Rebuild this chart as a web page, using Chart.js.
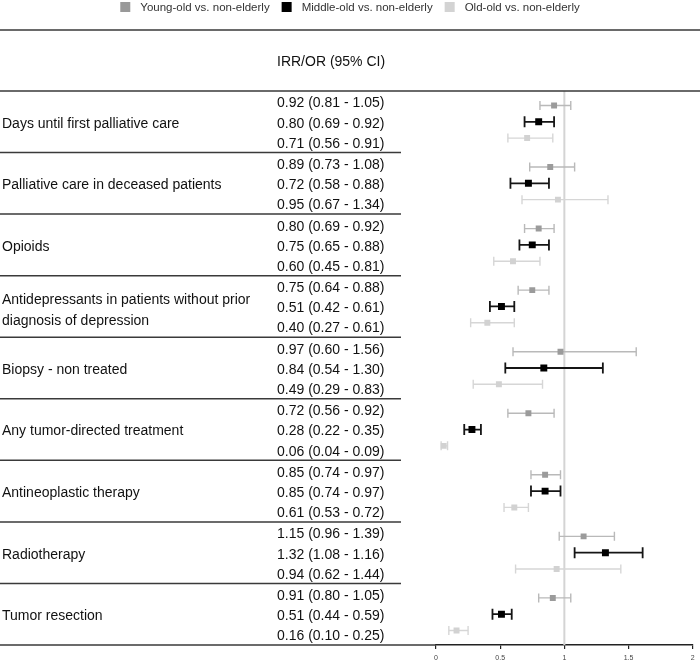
<!DOCTYPE html>
<html>
<head>
<meta charset="utf-8">
<title>IRR/OR forest plot</title>
<script src="https://cdn.jsdelivr.net/npm/chart.js@4.4.0/dist/chart.umd.min.js"></script>
<style>
  html, body { margin: 0; padding: 0; background: #fff; }
  #wrap { position: relative; width: 700px; height: 662px; }
</style>
</head>
<body>
<div id="wrap"><canvas id="forest"></canvas></div>
<script>
// Outcomes, one group of three rows each
const outcomes = [
  'Days until first palliative care',
  'Palliative care in deceased patients',
  'Opioids',
  ['Antidepressants in patients without prior', 'diagnosis of depression'],
  'Biopsy - non treated',
  'Any tumor-directed treatment',
  'Antineoplastic therapy',
  'Radiotherapy',
  'Tumor resection'
];
const seriesLabels = ['Young-old vs. non-elderly', 'Middle-old vs. non-elderly', 'Old-old vs. non-elderly'];

const youngEst  = [0.92, 0.89, 0.80, 0.75, 0.97, 0.72, 0.85, 1.15, 0.91];
const youngLow  = [0.81, 0.73, 0.69, 0.64, 0.60, 0.56, 0.74, 0.96, 0.80];
const youngHigh = [1.05, 1.08, 0.92, 0.88, 1.56, 0.92, 0.97, 1.39, 1.05];

const middleEst  = [0.80, 0.72, 0.75, 0.51, 0.84, 0.28, 0.85, 1.32, 0.51];
const middleLow  = [0.69, 0.58, 0.65, 0.42, 0.54, 0.22, 0.74, 1.08, 0.44];
// radiotherapy: the printed upper limit reads 1.16 but the drawn whisker ends near 1.61
const middleHigh = [0.92, 0.88, 0.88, 0.61, 1.30, 0.35, 0.97, 1.61, 0.59];
const middleHighPrinted = [0.92, 0.88, 0.88, 0.61, 1.30, 0.35, 0.97, 1.16, 0.59];

const oldEst  = [0.71, 0.95, 0.60, 0.40, 0.49, 0.06, 0.61, 0.94, 0.16];
const oldLow  = [0.56, 0.67, 0.45, 0.27, 0.29, 0.04, 0.53, 0.62, 0.10];
const oldHigh = [0.91, 1.34, 0.81, 0.61, 0.83, 0.09, 0.72, 1.44, 0.25];

const xTicks = [0, 0.5, 1, 1.5, 2];

const series = [
  { est: youngEst, low: youngLow, high: youngHigh, printed: youngHigh,
    mark: '#9b9b9b', bar: '#b9b9b9', key: '#999999', size: 4.2, cap: 4.5, lw: 1.4 },
  { est: middleEst, low: middleLow, high: middleHigh, printed: middleHighPrinted,
    mark: '#000000', bar: '#151515', key: '#000000', size: 4.9, cap: 5.5, lw: 1.8 },
  { est: oldEst, low: oldLow, high: oldHigh, printed: oldHigh,
    mark: '#d2d2d2', bar: '#d6d6d6', key: '#d3d3d3', size: 4.2, cap: 4.5, lw: 1.4 }
];

// y is measured in groups: group g is centred on g
const markOffset = 0.265;   // spacing of the markers inside a group
const textOffset = 0.328;   // spacing of the printed rows inside a group
const textNudge = 2;        // text sits a touch below the marker rows
const fmt = v => v.toFixed(2);

const datasets = [];
series.forEach((s, si) => {
  const dy = (si - 1) * markOffset;
  const bars = [];
  const caps = [];
  const marks = [];
  outcomes.forEach((_, g) => {
    bars.push({ x: s.low[g], y: g + dy }, { x: s.high[g], y: g + dy }, { x: s.high[g], y: null });
    caps.push({ x: s.low[g], y: g + dy }, { x: s.high[g], y: g + dy });
    marks.push({ x: s.est[g], y: g + dy });
  });
  datasets.push({
    type: 'line', data: bars, borderColor: s.bar, borderWidth: s.lw,
    pointRadius: 0, spanGaps: false, fill: false, order: 3
  });
  datasets.push({
    type: 'scatter', data: caps, pointStyle: 'line', rotation: 90,
    pointRadius: s.cap, borderColor: s.bar, pointBorderWidth: s.lw, order: 2
  });
  datasets.push({
    type: 'scatter', data: marks, pointStyle: 'rect', pointRadius: s.size,
    backgroundColor: s.mark, borderColor: s.mark, pointBorderWidth: 0, order: 1
  });
});

// reference line at 1
datasets.push({
  type: 'line', data: [{ x: 1, y: -0.5 }, { x: 1, y: outcomes.length - 0.5 }],
  borderColor: '#d4d4d4', borderWidth: 2, pointRadius: 0, order: 4
});

const tablePlugin = {
  id: 'forestTable',
  afterDraw(chart) {
    const ctx = chart.ctx;
    const yScale = chart.scales.y;
    const area = chart.chartArea;
    const rowY = v => yScale.getPixelForValue(v) + textNudge;
    ctx.save();

    // legend, centred across the page
    ctx.font = '11.5px "Liberation Sans", Arial, sans-serif';
    ctx.textBaseline = 'middle';
    const box = 10, gapIn = 10, gapOut = 12;
    const widths = seriesLabels.map(t => ctx.measureText(t).width);
    let total = widths.reduce((a, b) => a + b, 0) + seriesLabels.length * (box + gapIn) + (seriesLabels.length - 1) * gapOut;
    let lx = (chart.width - total) / 2;
    seriesLabels.forEach((t, i) => {
      ctx.fillStyle = series[i].key;
      ctx.fillRect(lx, 2, box, box);
      ctx.fillStyle = '#333';
      ctx.fillText(t, lx + box + gapIn, 7.5);
      lx += box + gapIn + widths[i] + gapOut;
    });

    // header rules
    ctx.strokeStyle = '#3a3a3a';
    ctx.lineWidth = 1.5;
    ctx.beginPath();
    ctx.moveTo(0, 30); ctx.lineTo(chart.width, 30);
    ctx.moveTo(0, area.top); ctx.lineTo(chart.width, area.top);
    ctx.stroke();

    ctx.font = '14px "Liberation Sans", Arial, sans-serif';
    ctx.fillStyle = '#111';
    const ciX = 277;
    ctx.fillText('IRR/OR (95% CI)', ciX, 62);

    outcomes.forEach((name, g) => {
      if (Array.isArray(name)) {
        ctx.fillText(name[0], 2, rowY(g - 0.14));
        ctx.fillText(name[1], 2, rowY(g + 0.2));
      } else {
        ctx.fillText(name, 2, rowY(g));
      }
      series.forEach((s, si) => {
        const ty = rowY(g + (si - 1) * textOffset);
        ctx.fillText(fmt(s.est[g]) + ' (' + fmt(s.low[g]) + ' - ' + fmt(s.printed[g]) + ')', ciX, ty);
      });
      // rule under each group
      const ry = yScale.getPixelForValue(g + 0.5);
      ctx.beginPath();
      ctx.moveTo(0, ry);
      ctx.lineTo(g === outcomes.length - 1 ? area.left : 401, ry);
      ctx.stroke();
    });
    ctx.restore();
  }
};

new Chart(document.getElementById('forest'), {
  type: 'scatter',
  data: { datasets: datasets },
  options: {
    responsive: true,
    maintainAspectRatio: false,
    animation: false,
    events: [],
    layout: { padding: { top: 91, left: 436, right: 3, bottom: 1 } },
    scales: {
      x: {
        type: 'linear',
        min: 0,
        max: 2,
        afterBuildTicks: scale => { scale.ticks = xTicks.map(v => ({ value: v })); },
        afterFit: scale => { scale.paddingLeft = 0; scale.paddingRight = 0; scale.height = 16; },
        ticks: {
          font: { size: 7, family: 'Liberation Sans' }, color: '#444', padding: 5,
          callback: v => String(v)
        },
        grid: { drawOnChartArea: false, drawTicks: true, tickLength: 4, color: '#222', lineWidth: 1.2 },
        border: { display: true, color: '#222', width: 1.5 }
      },
      y: {
        type: 'linear',
        reverse: true,
        min: -0.5,
        max: outcomes.length - 0.5,
        display: false
      }
    },
    plugins: {
      legend: { display: false },
      tooltip: { enabled: false }
    }
  },
  plugins: [tablePlugin]
});
</script>
</body>
</html>
